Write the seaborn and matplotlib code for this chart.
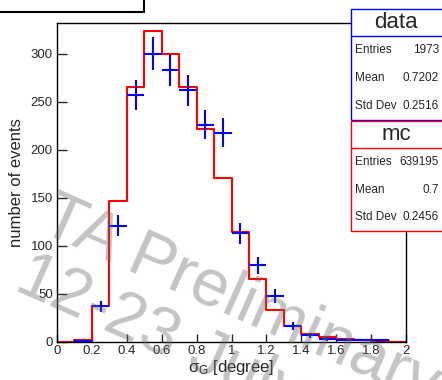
import numpy as np
import pandas as pd
import matplotlib
matplotlib.use("Agg")
import matplotlib.pyplot as plt
import seaborn as sns
from matplotlib.patches import Rectangle
from matplotlib.lines import Line2D
from matplotlib.ticker import MultipleLocator

# histogram binning: 20 bins of 0.1 degree
bin_edges = [round(0.1 * i, 2) for i in range(21)]
bin_centers = [round(0.1 * i + 0.05, 3) for i in range(20)]

# values
data_counts = [0, 1, 37, 121, 257, 300, 283, 262, 226, 218,
               113, 80, 48, 17, 7, 3, 2, 2, 2, 0]
mc_counts = [0, 2, 37, 147, 265, 324, 300, 265, 222, 171,
             115, 66, 33, 16.5, 8, 5.5, 3.5, 2, 1, 0.5]

data_stats = [("Entries", "1973"), ("Mean", "0.7202"), ("Std Dev", "0.2516")]
mc_stats = [("Entries", "639195"), ("Mean", "0.7"), ("Std Dev", "0.2456")]

x_ticks = [0, 0.2, 0.4, 0.6, 0.8, 1, 1.2, 1.4, 1.6, 1.8, 2]
x_tick_labels = ["0", "0.2", "0.4", "0.6", "0.8", "1", "1.2", "1.4", "1.6", "1.8", "2"]

sns.set_style("white")
plt.rcParams["font.family"] = ["Liberation Sans", "DejaVu Sans"]
plt.rcParams["mathtext.fontset"] = "custom"
plt.rcParams["mathtext.rm"] = "Liberation Sans"
plt.rcParams["mathtext.it"] = "Liberation Sans"

W, H = 442, 380


def fx(x):
    return x / W


def fy(y):
    return 1 - y / H


fig = plt.figure(figsize=(W / 100, H / 100), dpi=100)
ax = fig.add_axes([fx(57), fy(342), fx(406) - fx(57), fy(23) - fy(342)])

# MC as a red step histogram
mc_df = pd.DataFrame({"sigma": bin_centers, "count": mc_counts})
sns.histplot(data=mc_df, x="sigma", weights="count", bins=bin_edges, element="step",
             fill=False, color="red", linewidth=1.5, ax=ax)

# data as blue crosses (sqrt(N) errors, bin-width horizontal bars)
d = np.array(data_counts, dtype=float)
xc = np.array(bin_centers)
keep = d > 0
ax.errorbar(xc[keep], d[keep], yerr=np.sqrt(d[keep]), xerr=0.05,
            fmt="none", ecolor="blue", elinewidth=1.5, capsize=0, zorder=3)

ax.set_xlim(0, 2)
ax.set_ylim(0, 332)
ax.set_xticks(x_ticks)
ax.set_xticklabels(x_tick_labels)
ax.xaxis.set_minor_locator(MultipleLocator(0.04))
ax.yaxis.set_major_locator(MultipleLocator(50))
ax.yaxis.set_minor_locator(MultipleLocator(10))
ax.tick_params(axis="x", which="major", direction="in", length=6, width=1, pad=2, labelsize=9.5)
ax.tick_params(axis="x", which="minor", direction="in", length=3, width=1)
ax.tick_params(axis="y", which="major", direction="in", length=7, width=1, pad=3, labelsize=9.5)
ax.tick_params(axis="y", which="minor", direction="in", length=3.6, width=1)
ax.tick_params(top=False, right=False, bottom=True, left=True)
for s in ax.spines.values():
    s.set_color("black")
    s.set_linewidth(1)

ax.set_xlabel(r"$\sigma_{G}$ [degree]", fontsize=12, labelpad=1)
ax.set_ylabel("number of events", fontsize=12, labelpad=5)

# title box cut off at the top left
fig.patches.append(Rectangle((fx(-4), fy(12)), fx(148), fy(-4) - fy(12),
                             transform=fig.transFigure, facecolor="white",
                             edgecolor="black", linewidth=1.5, zorder=5))


def stats_box(top, sep, bottom, colour, name, rows):
    fig.patches.append(Rectangle((fx(351), fy(bottom)), fx(100), fy(top) - fy(bottom),
                                 transform=fig.transFigure, facecolor="white",
                                 edgecolor=colour, linewidth=1, zorder=5))
    fig.lines.append(Line2D([fx(351), fx(445)], [fy(sep), fy(sep)],
                            transform=fig.transFigure, color=colour, linewidth=1, zorder=6))
    fig.text(fx(396), fy((top + sep) / 2), name, fontsize=16, ha="center", va="center", zorder=7)
    step = (bottom - sep) / len(rows)
    for i, (k, v) in enumerate(rows):
        yy = fy(sep + step * (i + 0.5))
        fig.text(fx(355), yy, k, fontsize=8.5, ha="left", va="center", zorder=7)
        fig.text(fx(439), yy, v, fontsize=8.5, ha="right", va="center", zorder=7)


stats_box(9, 36, 120, "blue", "data", data_stats)
stats_box(121, 148, 231, "red", "mc", mc_stats)

# watermark, semi-transparent on top of everything
wm_style = dict(fontsize=48, color="0.42", alpha=0.4, rotation=-24,
                rotation_mode="anchor", ha="left", va="baseline", zorder=10)
fig.text(fx(38), fy(230), "TA Preliminary", **wm_style)
fig.text(fx(13), fy(289), "12-23 July 2021", **wm_style)

fig.savefig("out.png", dpi=100)
